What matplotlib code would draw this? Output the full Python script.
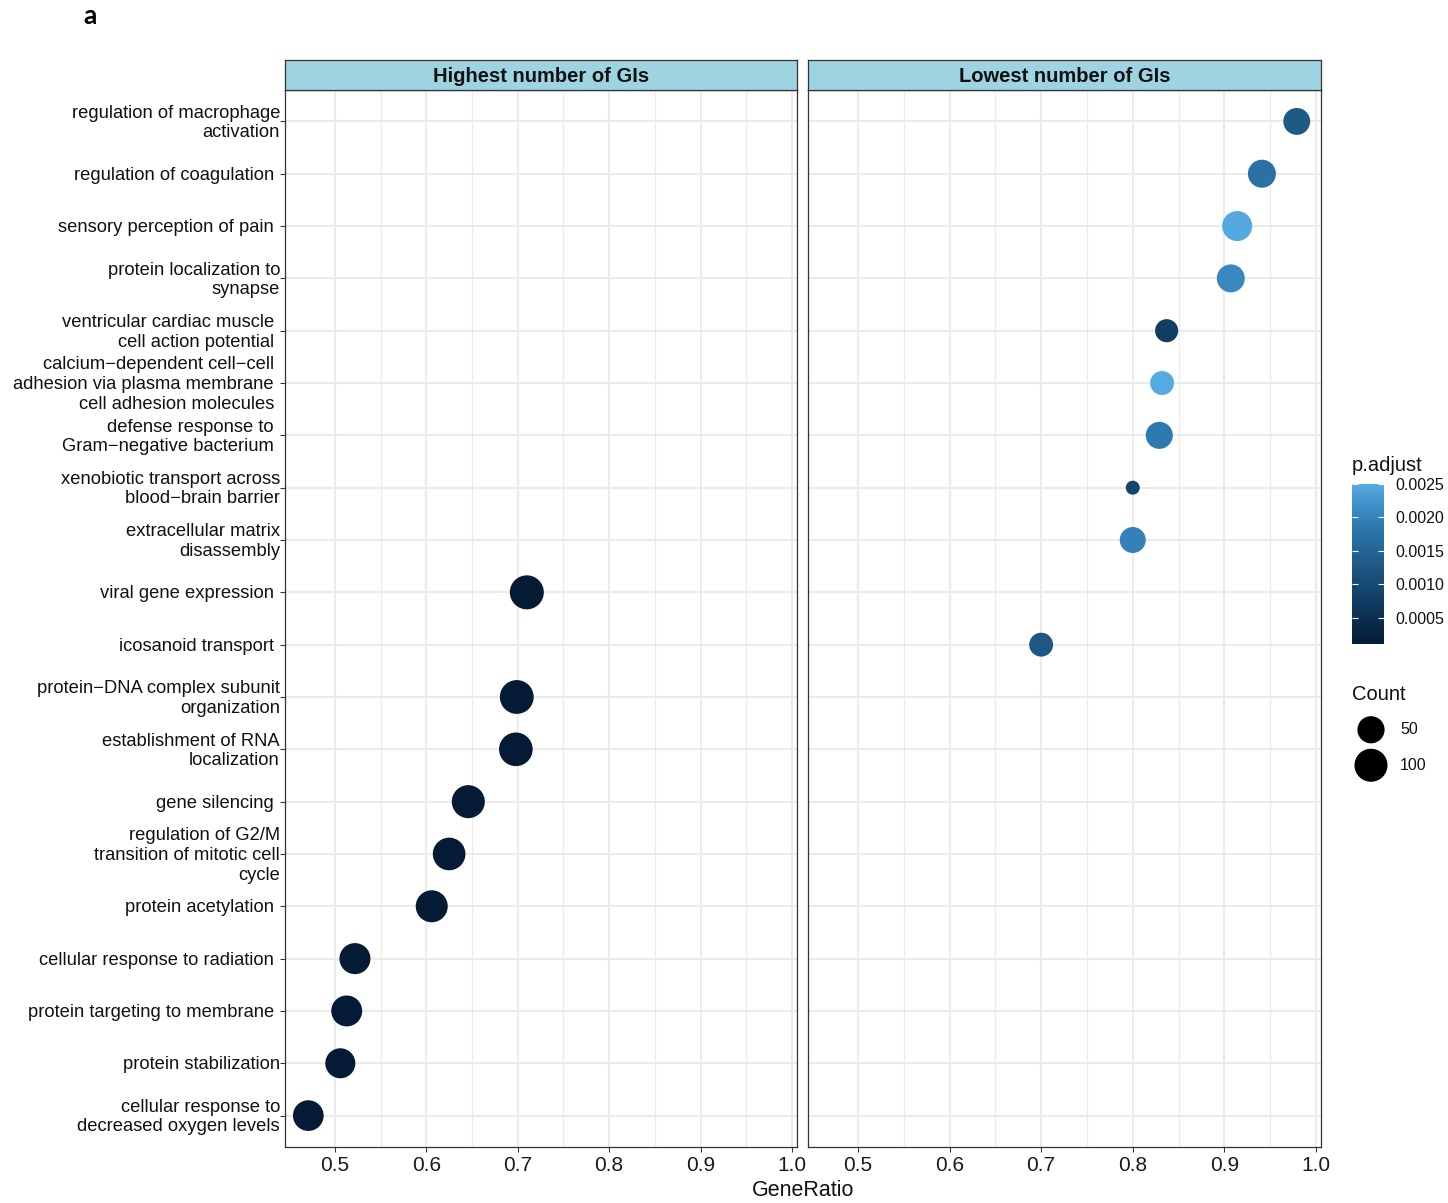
import numpy as np
import matplotlib
matplotlib.use("Agg")
import matplotlib.pyplot as plt
from matplotlib.colors import LinearSegmentedColormap, Normalize
from matplotlib.cm import ScalarMappable
from matplotlib.transforms import blended_transform_factory, ScaledTranslation

plt.rcParams["font.family"] = ["Liberation Sans", "DejaVu Sans"]

# GO terms, top to bottom, wrapped as displayed on the y axis
term_labels = [
    "regulation of macrophage\nactivation",
    "regulation of coagulation",
    "sensory perception of pain",
    "protein localization to\nsynapse",
    "ventricular cardiac muscle\ncell action potential",
    "calcium\u2212dependent cell\u2212cell\nadhesion via plasma membrane\ncell adhesion molecules",
    "defense response to\nGram\u2212negative bacterium",
    "xenobiotic transport across\nblood\u2212brain barrier",
    "extracellular matrix\ndisassembly",
    "viral gene expression",
    "icosanoid transport",
    "protein\u2212DNA complex subunit\norganization",
    "establishment of RNA\nlocalization",
    "gene silencing",
    "regulation of G2/M\ntransition of mitotic cell\ncycle",
    "protein acetylation",
    "cellular response to radiation",
    "protein targeting to membrane",
    "protein stabilization",
    "cellular response to\ndecreased oxygen levels",
]

panel_titles = ["Highest number of GIs", "Lowest number of GIs"]

# Highest number of GIs
high_terms = [
    "viral gene expression",
    "protein\u2212DNA complex subunit organization",
    "establishment of RNA localization",
    "gene silencing",
    "regulation of G2/M transition of mitotic cell cycle",
    "protein acetylation",
    "cellular response to radiation",
    "protein targeting to membrane",
    "protein stabilization",
    "cellular response to decreased oxygen levels",
]
high_ratio = [0.710, 0.699, 0.698, 0.646, 0.625, 0.606, 0.522, 0.513, 0.506, 0.471]
high_count = [110, 108, 106, 100, 96, 90, 81, 80, 72, 78]
high_padj = [1.05e-4, 1.06e-4, 1.05e-4, 1.08e-4, 1.07e-4, 1.10e-4, 1.06e-4, 1.09e-4, 1.07e-4, 1.04e-4]

# Lowest number of GIs
low_terms = [
    "regulation of macrophage activation",
    "regulation of coagulation",
    "sensory perception of pain",
    "protein localization to synapse",
    "ventricular cardiac muscle cell action potential",
    "calcium\u2212dependent cell\u2212cell adhesion via plasma membrane cell adhesion molecules",
    "defense response to Gram\u2212negative bacterium",
    "xenobiotic transport across blood\u2212brain barrier",
    "extracellular matrix disassembly",
    "icosanoid transport",
]
low_ratio = [0.979, 0.941, 0.914, 0.907, 0.837, 0.832, 0.829, 0.800, 0.800, 0.700]
low_count = [48, 56, 72, 56, 26, 30, 49, 4, 42, 30]
low_padj = [0.00130, 0.00173, 0.00248, 0.00207, 0.00075, 0.00250, 0.00188, 0.00094, 0.00197, 0.00125]

padj_ticks = [0.0005, 0.0010, 0.0015, 0.0020, 0.0025]
count_breaks = [50, 100]
xticks = [0.5, 0.6, 0.7, 0.8, 0.9, 1.0]

# ---------------------------------------------------------------- scales
W, H, DPI = 1448, 1203, 100
n_terms = len(term_labels)
ypos = {lab.replace("\n", " "): n_terms - i for i, lab in enumerate(term_labels)}

all_counts = np.array(high_count + low_count, dtype=float)
cmin, cmax = all_counts.min(), all_counts.max()


def marker_area(c):
    d_px = 14 + 20 * np.sqrt((np.asarray(c, dtype=float) - cmin) / (cmax - cmin))
    return (d_px * 72.0 / DPI) ** 2


all_padj = np.array(high_padj + low_padj)
norm = Normalize(vmin=all_padj.min(), vmax=all_padj.max())
cmap = LinearSegmentedColormap.from_list(
    "padj", ["#041a35", "#0f3a5f", "#1f5a86", "#2f7ab2", "#56aae2"])

fig = plt.figure(figsize=(W / DPI, H / DPI), dpi=DPI)


def rect(x0, y0, x1, y1):
    return [x0 / W, 1 - y1 / H, (x1 - x0) / W, (y1 - y0) / H]


panel_px = [(285, 797), (808, 1321)]
top_px, bot_px, strip_top = 90, 1147, 60
border = "#333333"

axes = []
for k, (x0, x1) in enumerate(panel_px):
    ax = fig.add_axes(rect(x0, top_px, x1, bot_px))
    ax.set_xlim(0.4455, 1.0055)
    ax.set_ylim(0.4, n_terms + 0.6)
    ax.set_xticks(xticks)
    ax.set_xticks(np.arange(0.55, 1.0, 0.1), minor=True)
    ax.set_xticklabels([f"{t:.1f}" for t in xticks], fontsize=15, color="#1a1a1a")
    ax.set_yticks(np.arange(1, n_terms + 1))
    ax.set_yticklabels([])
    ax.set_axisbelow(True)
    ax.grid(which="major", color="#EBEBEB", lw=1.5)
    ax.grid(which="minor", axis="x", color="#EBEBEB", lw=0.8)
    ax.tick_params(axis="x", which="major", length=3.6, width=0.75, color=border, pad=3)
    ax.tick_params(axis="x", which="minor", length=0)
    ax.tick_params(axis="y", length=3.6, width=0.75, color=border, left=(k == 0))
    for sp in ax.spines.values():
        sp.set_color(border)
        sp.set_linewidth(0.9)

    # facet strip
    sax = fig.add_axes(rect(x0, strip_top, x1, top_px))
    sax.set_facecolor("#9ed4e1")
    sax.set_xticks([])
    sax.set_yticks([])
    for sp in sax.spines.values():
        sp.set_color(border)
        sp.set_linewidth(0.9)
    sax.text(0.5, 0.44, panel_titles[k], transform=sax.transAxes, ha="center",
             va="center", fontsize=14.5, fontweight="bold", color="#111111")
    axes.append(ax)

axL, axR = axes

for ax, terms, ratio, count, padj in [
    (axL, high_terms, high_ratio, high_count, high_padj),
    (axR, low_terms, low_ratio, low_count, low_padj),
]:
    ys = [ypos[t] for t in terms]
    ax.scatter(ratio, ys, s=marker_area(count), c=padj, cmap=cmap, norm=norm,
               edgecolors="none", zorder=3)

# y-axis term labels
flush = {
    "regulation of macrophage activation",
    "protein localization to synapse",
    "xenobiotic transport across blood\u2212brain barrier",
    "extracellular matrix disassembly",
    "protein\u2212DNA complex subunit organization",
    "establishment of RNA localization",
    "regulation of G2/M transition of mitotic cell cycle",
    "protein stabilization",
    "cellular response to decreased oxygen levels",
}
base = blended_transform_factory(axL.transAxes, axL.transData)
for lab in term_labels:
    key = lab.replace("\n", " ")
    gap = 5 if key in flush else 11
    tr = base + ScaledTranslation(-gap / DPI, -1.5 / DPI, fig.dpi_scale_trans)
    axL.text(0, ypos[key], lab, transform=tr, ha="right", va="center",
             multialignment="right", fontsize=13.2, linespacing=1.2,
             color="#111111")

fig.text((285 + 1321) / 2 / W, 1 - 1190 / H, "GeneRatio", ha="center",
         va="center", fontsize=15.5, color="#111111")

fig.text(90 / W, 1 - 16 / H, "a", ha="center", va="center", fontsize=19,
         fontweight="bold", family=["Lato", "DejaVu Sans"])

# colour bar legend
cax = fig.add_axes(rect(1352, 484, 1384, 644))
cb = fig.colorbar(ScalarMappable(norm=norm, cmap=cmap), cax=cax, ticks=padj_ticks)
cb.outline.set_visible(False)
cb.ax.set_yticklabels([f"{t:.4f}" for t in padj_ticks], fontsize=11.5, color="#111111")
cb.ax.tick_params(direction="in", length=4.6, width=0.8, color="white",
                  left=True, right=True, pad=8)
fig.text(1352 / W, 1 - 466 / H, "p.adjust", ha="left", va="center", fontsize=14.5,
         color="#111111")

# size legend
fig.text(1352 / W, 1 - 695 / H, "Count", ha="left", va="center", fontsize=14.5,
         color="#111111")
lax = fig.add_axes(rect(1352, 712, 1390, 783))
lax.set_xlim(0, 1)
lax.set_ylim(0, len(count_breaks))
lax.axis("off")
for i, c in enumerate(count_breaks):
    yc = len(count_breaks) - i - 0.5
    lax.scatter([0.5], [yc], s=marker_area(c), color="black", edgecolors="none",
                clip_on=False)
    fig.text(1400 / W, 1 - (712 + (i + 0.5) * 71 / len(count_breaks)) / H, str(c),
             ha="left", va="center", fontsize=11.5, color="#111111")

fig.savefig("out.png", dpi=DPI, facecolor="white")
